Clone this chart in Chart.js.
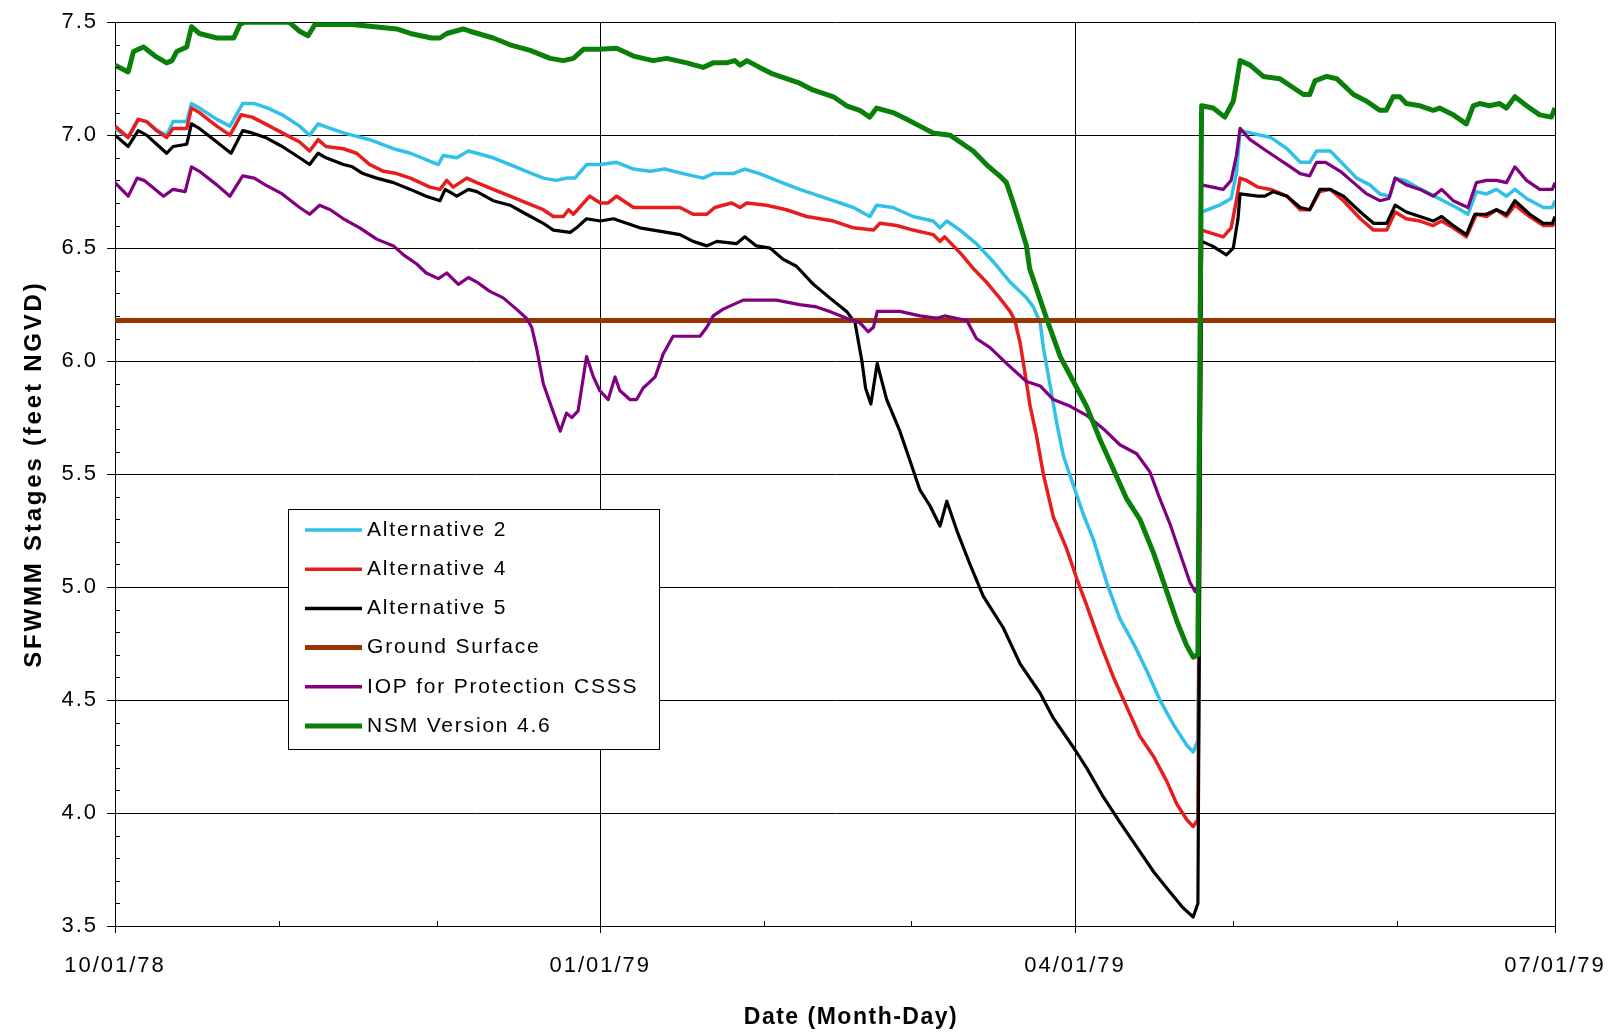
<!DOCTYPE html>
<html><head><meta charset="utf-8">
<script src="https://cdn.jsdelivr.net/npm/chart.js@4.4.1/dist/chart.umd.min.js"></script>
<style>html,body{margin:0;padding:0;background:#fff;}#wrap{position:relative;width:1612px;height:1032px;}</style>
</head><body><div id="wrap"><canvas id="c"></canvas></div>
<script>
// ---- data (x = days since 10/01/78) ----
const xTickDays = [0, 92, 182, 273];
const xTickLabels = ['10/01/78', '01/01/79', '04/01/79', '07/01/79'];
const xMinorDays = [31, 61, 123, 151, 212, 243];
const yMin = 3.5, yMax = 7.5, yStep = 0.5, yMinorStep = 0.1;
const xAxisTitle = 'Date (Month-Day)';
const yAxisTitle = 'SFWMM Stages (feet NGVD)';
const seriesNames = ['Alternative 2', 'Alternative 4', 'Alternative 5', 'Ground Surface', 'IOP for Protection CSSS', 'NSM Version 4.6'];

const alt2 = [[0,7.03],[2.5,6.99],[4.4,7.07],[6,7.06],[8,7.02],[9.8,7.0],[11,7.06],[13.6,7.06],[14.5,7.14],[16,7.12],[19.3,7.07],[21.8,7.04],[24.2,7.14],[26.4,7.14],[29,7.12],[31.7,7.09],[35,7.04],[36.9,7.0],[38.5,7.05],[40.8,7.03],[43.3,7.01],[48.3,6.98],[52.8,6.94],[56,6.92],[61.3,6.87],[62.2,6.91],[64.8,6.90],[67,6.93],[68.6,6.92],[71.7,6.90],[74.9,6.87],[78,6.84],[81.2,6.81],[83.7,6.80],[85.6,6.81],[87.2,6.81],[89.4,6.87],[92,6.87],[95.1,6.88],[98.3,6.85],[101.4,6.84],[104.2,6.85],[107.7,6.83],[111.5,6.81],[113.4,6.83],[117.2,6.83],[119.4,6.85],[122.2,6.83],[125.4,6.80],[129.8,6.76],[134.9,6.72],[140,6.68],[143.1,6.64],[144.4,6.69],[147.5,6.68],[151.3,6.64],[155.1,6.62],[156.4,6.59],[157.7,6.62],[160.2,6.58],[163.3,6.52],[166.5,6.44],[169.7,6.35],[172.8,6.28],[174.1,6.24],[175.4,6.17],[176,6.06],[177.3,5.89],[178.5,5.73],[179.8,5.58],[181.7,5.45],[183.6,5.32],[185.5,5.21],[188,5.02],[190.5,4.86],[193.1,4.75],[195.6,4.63],[198.1,4.50],[200.7,4.39],[203.2,4.30],[204.4,4.27],[205.3,4.32],[206,6.66],[209.4,6.69],[211.6,6.72],[212.6,6.83],[213.3,7.02],[215.2,7.01],[219.1,6.99],[222.2,6.94],[224.7,6.88],[226.5,6.88],[227.8,6.93],[230.4,6.93],[232.9,6.87],[235.4,6.81],[237.9,6.78],[239.8,6.74],[241.7,6.73],[242.7,6.81],[244.5,6.80],[246.8,6.77],[249.3,6.74],[251.8,6.71],[254.3,6.68],[256.5,6.65],[258.1,6.75],[260,6.74],[261.9,6.76],[263.8,6.73],[265.4,6.76],[267.6,6.72],[270.8,6.68],[272.5,6.68],[273,6.71]];

const alt4 = [[0,7.04],[2.5,6.99],[4.4,7.07],[6,7.06],[7.9,7.02],[9.8,6.99],[11,7.03],[13.6,7.03],[14.5,7.12],[16,7.10],[19.3,7.04],[21.8,7.0],[23.9,7.09],[26,7.08],[28.5,7.05],[31.7,7.01],[35,6.97],[36.9,6.93],[38.5,6.98],[40,6.95],[43.3,6.94],[45.8,6.92],[48.3,6.87],[50.9,6.84],[53.4,6.83],[56,6.81],[59.7,6.77],[61.6,6.76],[62.9,6.80],[64.1,6.77],[66.7,6.81],[68.6,6.79],[71.7,6.76],[74.9,6.73],[78,6.70],[81.2,6.67],[83.1,6.64],[85,6.64],[86,6.67],[86.9,6.65],[90,6.73],[92,6.70],[93.5,6.70],[95.1,6.73],[98.3,6.68],[101.4,6.68],[107.1,6.68],[109.6,6.65],[112.2,6.65],[113.7,6.68],[116.9,6.70],[118.5,6.68],[119.8,6.70],[123.5,6.69],[127.3,6.67],[131.1,6.64],[136.2,6.62],[140,6.59],[143.8,6.58],[145,6.61],[148.2,6.60],[151.3,6.58],[155.1,6.56],[156.4,6.53],[157.3,6.55],[160.2,6.48],[162.7,6.41],[165.2,6.35],[167.7,6.28],[169.7,6.22],[170.6,6.18],[171.6,6.08],[172.5,5.95],[173.5,5.80],[174.7,5.67],[176,5.50],[177.9,5.31],[180.4,5.17],[182.3,5.04],[184.2,4.92],[186.8,4.75],[189.3,4.60],[191.8,4.47],[194.3,4.34],[196.9,4.25],[199.4,4.14],[201.3,4.04],[203.2,3.97],[204.4,3.94],[205.3,3.97],[206,6.58],[210.1,6.55],[211.6,6.59],[212.6,6.71],[213.3,6.81],[214.5,6.80],[216.7,6.77],[219.1,6.76],[222.2,6.73],[224.7,6.67],[226.5,6.67],[228.4,6.75],[230.4,6.76],[232.9,6.71],[236.1,6.63],[238.6,6.58],[241.1,6.58],[242.7,6.66],[244.8,6.63],[247.4,6.62],[249.9,6.60],[251.5,6.62],[253.7,6.59],[256.2,6.55],[258.1,6.65],[260,6.64],[261.9,6.67],[263.8,6.64],[265.4,6.69],[268.2,6.64],[270.8,6.60],[272.5,6.60],[273,6.61]];

const alt5 = [[0,7.0],[2.5,6.95],[4.4,7.02],[6,7.0],[7.9,6.96],[9.8,6.92],[11,6.95],[13.6,6.96],[14.5,7.05],[16,7.03],[19.3,6.97],[22,6.92],[24.2,7.02],[26,7.01],[28.5,6.99],[31.7,6.95],[35,6.90],[36.9,6.87],[38.5,6.92],[40,6.90],[43.3,6.87],[45,6.86],[47,6.83],[49.6,6.81],[52.8,6.79],[56,6.76],[59,6.73],[61.6,6.71],[62.6,6.76],[64.8,6.73],[67,6.76],[68.6,6.75],[71.7,6.71],[74.9,6.69],[78,6.65],[81.2,6.61],[83.1,6.58],[86.3,6.57],[87.5,6.59],[89.4,6.63],[92,6.62],[94.5,6.63],[97,6.61],[99.5,6.59],[104.6,6.57],[107.1,6.56],[109.6,6.53],[112.2,6.51],[114.1,6.53],[117.8,6.52],[119.4,6.55],[121.6,6.51],[124.2,6.50],[126.7,6.45],[129.2,6.42],[132.4,6.34],[135.5,6.28],[138.7,6.22],[140.3,6.17],[141.6,6.0],[142.3,5.88],[143.3,5.81],[144.5,5.99],[146.3,5.83],[148.8,5.69],[150.7,5.56],[152.6,5.43],[154.5,5.36],[156.4,5.27],[157.7,5.38],[159.6,5.25],[162.1,5.10],[164.6,4.96],[168.4,4.82],[171.6,4.66],[175.4,4.53],[177.9,4.42],[182,4.28],[184.2,4.20],[187.4,4.07],[190.5,3.96],[193.7,3.85],[196.9,3.74],[200,3.65],[202.5,3.58],[204.4,3.54],[205.3,3.60],[206,6.53],[208,6.51],[210.7,6.47],[212,6.50],[212.9,6.63],[213.3,6.74],[216.7,6.73],[218,6.73],[219.6,6.75],[222.2,6.73],[224.7,6.68],[226.5,6.67],[228.4,6.76],[230.4,6.76],[232.9,6.73],[236.1,6.66],[238.6,6.61],[241.1,6.61],[242.7,6.69],[244.8,6.66],[247.4,6.64],[249.9,6.62],[251.5,6.64],[253.7,6.60],[256.2,6.56],[257.8,6.65],[260,6.65],[261.9,6.67],[263.8,6.65],[265.4,6.71],[268.2,6.65],[270.8,6.61],[272.5,6.61],[273,6.64]];

const groundSurface = [[0,6.18],[273,6.18]];

const iopCsss = [[0,6.79],[2.5,6.73],[4.2,6.81],[5.5,6.80],[9.2,6.73],[11,6.76],[13.3,6.75],[14.5,6.86],[16,6.84],[19.3,6.78],[21.8,6.73],[24.2,6.82],[26.4,6.81],[28.5,6.78],[31.7,6.74],[35,6.68],[36.9,6.65],[38.8,6.69],[40.8,6.67],[43.3,6.63],[46.4,6.59],[49.6,6.54],[52.8,6.51],[54.7,6.47],[57.2,6.43],[59,6.39],[61.3,6.365],[62.9,6.39],[65.1,6.34],[67,6.37],[68.6,6.35],[71,6.31],[73.6,6.28],[76.1,6.23],[78,6.19],[79,6.15],[79.9,6.06],[81.2,5.90],[83,5.78],[84.4,5.69],[85.6,5.77],[86.6,5.75],[87.8,5.78],[89.4,6.02],[90.7,5.93],[91.9,5.87],[93.5,5.83],[94.8,5.93],[95.7,5.87],[97.6,5.83],[98.9,5.83],[100.1,5.88],[102.4,5.93],[103.9,6.03],[105.8,6.11],[110.9,6.11],[112.2,6.15],[113.4,6.20],[115.3,6.23],[117.2,6.25],[119.1,6.27],[125.4,6.27],[129.8,6.25],[133,6.24],[135.5,6.22],[138.7,6.19],[141.2,6.17],[142.8,6.13],[143.8,6.15],[144.5,6.22],[148.8,6.22],[152.6,6.20],[155.7,6.19],[157.3,6.20],[161.5,6.18],[163.3,6.10],[165.9,6.06],[169,5.99],[172.8,5.91],[175.4,5.89],[177.9,5.83],[181.1,5.80],[184.2,5.76],[187.4,5.70],[190.5,5.63],[193.7,5.59],[196.2,5.51],[198.1,5.39],[200,5.28],[201.9,5.15],[203.8,5.02],[204.8,4.98],[205.3,5.0],[206,6.78],[210.1,6.76],[211.6,6.80],[212.6,6.91],[213.3,7.03],[215.2,6.98],[217.7,6.94],[219.6,6.91],[222.2,6.87],[224.7,6.83],[226.5,6.82],[227.8,6.88],[229.5,6.88],[232.3,6.84],[234.8,6.79],[237.3,6.74],[239.8,6.71],[241.5,6.72],[242.7,6.81],[244.8,6.78],[247.4,6.76],[249.9,6.73],[251.5,6.76],[253.7,6.71],[256.5,6.68],[258.1,6.79],[260,6.80],[261.9,6.80],[263.8,6.79],[265.4,6.86],[267.6,6.80],[270.1,6.76],[272.5,6.76],[273,6.79]];

const nsm46 = [[0,7.31],[2.5,7.28],[3.5,7.37],[5.4,7.39],[7.6,7.35],[9.8,7.32],[10.8,7.33],[11.7,7.37],[13.6,7.39],[14.5,7.48],[16,7.45],[19.3,7.43],[22.5,7.43],[23.7,7.49],[24.5,7.50],[33,7.50],[35,7.46],[36.6,7.44],[37.9,7.49],[45,7.49],[53.4,7.47],[56,7.45],[60,7.43],[61.6,7.43],[62.9,7.45],[66,7.47],[67.3,7.46],[71.7,7.43],[74.9,7.40],[78.7,7.375],[82.5,7.34],[85,7.33],[86.9,7.34],[88.8,7.38],[91.9,7.38],[95.1,7.385],[98.3,7.35],[102,7.33],[104.6,7.34],[108.4,7.32],[111.5,7.30],[113.4,7.32],[115.9,7.32],[117.5,7.33],[118.5,7.31],[119.8,7.33],[122.2,7.30],[124.8,7.27],[127.3,7.25],[129.8,7.23],[132.3,7.20],[136.2,7.17],[138.7,7.13],[141.2,7.11],[143.1,7.08],[144.4,7.12],[147.5,7.10],[150.1,7.07],[152.6,7.04],[155.1,7.01],[158.3,7.00],[160.2,6.97],[162.7,6.93],[165.2,6.87],[167.7,6.82],[169,6.79],[170.3,6.70],[171.5,6.61],[172.8,6.51],[173.4,6.41],[174.7,6.32],[176.6,6.19],[179.2,6.02],[181.7,5.91],[184.2,5.80],[186.8,5.65],[189.3,5.52],[191.8,5.39],[194.3,5.30],[196.9,5.15],[199.4,4.98],[201.3,4.85],[203.2,4.74],[204.4,4.69],[205.3,4.70],[206,7.13],[208.2,7.12],[210.4,7.08],[212,7.15],[212.6,7.23],[213.3,7.33],[215.2,7.31],[217.7,7.26],[220.8,7.25],[223.4,7.21],[225.3,7.18],[226.5,7.18],[227.5,7.24],[229.7,7.26],[231.6,7.25],[234.8,7.18],[237.3,7.15],[239.8,7.11],[241,7.11],[242.3,7.17],[243.6,7.17],[244.8,7.14],[247.4,7.13],[249.9,7.11],[251.1,7.12],[253.7,7.09],[256.2,7.05],[257.5,7.13],[258.7,7.14],[260.6,7.13],[262.5,7.14],[263.8,7.12],[265.4,7.17],[267.6,7.13],[270.1,7.09],[272.3,7.08],[273,7.12]];

const seriesData = [alt2, alt4, alt5, groundSurface, iopCsss, nsm46];
const seriesColors = ['#30C0E8', '#E81E1E', '#000000', '#993300', '#800080', '#0A800A'];
const seriesWidths = [3.5, 3.5, 3.2, 5, 3.2, 5];
const seriesOrder = [5, 4, 3, 2, 1, 0]; // later series drawn on top

const FONT = '"Liberation Sans", Arial, Helvetica, sans-serif';
Chart.defaults.color = '#000';
Chart.defaults.font.family = FONT;

function setSpacing(chart) { try { chart.ctx.letterSpacing = '2px'; } catch (e) {} }

const decorPlugin = {
  id: 'decor',
  beforeLayout: setSpacing,
  beforeDraw: setSpacing,
  afterDatasetsDraw(chart) {
    const ctx = chart.ctx, xs = chart.scales.x, ys = chart.scales.y, a = chart.chartArea;
    ctx.save();
    ctx.strokeStyle = '#000'; ctx.lineWidth = 1;
    ctx.beginPath();
    for (let k = Math.round(yMin / yMinorStep) + 1; k < Math.round(yMax / yMinorStep); k++) {
      if (k % Math.round(yStep / yMinorStep) === 0) continue;
      const py = Math.round(ys.getPixelForValue(k * yMinorStep)) + 0.5;
      ctx.moveTo(a.left, py); ctx.lineTo(a.left + 5, py);
    }
    xMinorDays.forEach(d => {
      const px = Math.round(xs.getPixelForValue(d)) + 0.5;
      ctx.moveTo(px, a.bottom); ctx.lineTo(px, a.bottom - 5);
    });
    ctx.stroke();
    ctx.restore();
  },
  afterDraw(chart) {
    const ctx = chart.ctx, a = chart.chartArea;
    ctx.save();
    // legend box
    const bx = Math.round(a.left + 173), by = Math.round(a.top + 487), bw = 371, bh = 240;
    ctx.fillStyle = '#fff'; ctx.fillRect(bx, by, bw, bh);
    ctx.strokeStyle = '#000'; ctx.lineWidth = 1; ctx.strokeRect(bx + 0.5, by + 0.5, bw, bh);
    ctx.font = '21px ' + FONT;
    try { ctx.letterSpacing = '1.8px'; } catch (e) {}
    ctx.textBaseline = 'middle'; ctx.textAlign = 'left';
    chart.data.datasets.forEach((ds, i) => {
      const cy = by + 21 + i * 39.2;
      ctx.strokeStyle = ds.borderColor; ctx.lineWidth = Math.max(ds.borderWidth, 3.5);
      ctx.beginPath(); ctx.moveTo(bx + 17, cy); ctx.lineTo(bx + 74, cy); ctx.stroke();
      ctx.fillStyle = '#000';
      ctx.fillText(ds.label, bx + 79, cy);
    });
    // axis titles
    ctx.fillStyle = '#000'; ctx.textAlign = 'center'; ctx.textBaseline = 'middle';
    ctx.font = 'bold 23px ' + FONT;
    try { ctx.letterSpacing = '1.5px'; } catch (e) {}
    ctx.fillText(xAxisTitle, (a.left + a.right) / 2 + 16, a.bottom + 92);
    ctx.translate(34, (a.top + a.bottom) / 2);
    ctx.rotate(-Math.PI / 2);
    ctx.font = 'bold 24px ' + FONT;
    try { ctx.letterSpacing = '2.8px'; } catch (e) {}
    ctx.fillText(yAxisTitle, 0, 0);
    ctx.restore();
    setSpacing(chart);
  }
};

new Chart(document.getElementById('c'), {
  type: 'line',
  data: {
    datasets: seriesData.map((s, i) => ({
      label: seriesNames[i],
      data: s.map(p => ({ x: p[0], y: p[1] })),
      borderColor: seriesColors[i],
      backgroundColor: seriesColors[i],
      borderWidth: seriesWidths[i],
      pointRadius: 0,
      tension: 0,
      fill: false,
      borderJoinStyle: 'round',
      order: seriesOrder[i]
    }))
  },
  options: {
    responsive: true,
    maintainAspectRatio: false,
    animation: false,
    devicePixelRatio: 1,
    layout: { padding: { top: 22, right: 57, left: 0, bottom: 0 } },
    plugins: { legend: { display: false }, tooltip: { enabled: false }, title: { display: false } },
    scales: {
      x: {
        type: 'linear', min: 0, max: 273,
        afterBuildTicks: sc => { sc.ticks = xTickDays.map(v => ({ value: v })); },
        afterFit: sc => { sc.height = 106; sc.paddingLeft = 0; sc.paddingRight = 0; },
        ticks: {
          autoSkip: false, maxRotation: 0, minRotation: 0, padding: 20,
          font: { size: 22, family: FONT }, color: '#000',
          callback: v => { const i = xTickDays.indexOf(v); return i >= 0 ? xTickLabels[i] : ''; }
        },
        grid: { color: '#000', lineWidth: 1, tickLength: 7, tickColor: '#000', drawTicks: true },
        border: { display: true, color: '#000', width: 1 }
      },
      y: {
        min: yMin, max: yMax,
        afterFit: sc => { sc.width = 115; },
        ticks: { stepSize: yStep, padding: 9, font: { size: 22, family: FONT }, color: '#000',
          callback: v => Number(v).toFixed(1) },
        grid: { color: '#000', lineWidth: 1, tickLength: 8, tickColor: '#000' },
        border: { display: true, color: '#000', width: 1 }
      }
    }
  },
  plugins: [decorPlugin]
});
</script>
</body></html>
